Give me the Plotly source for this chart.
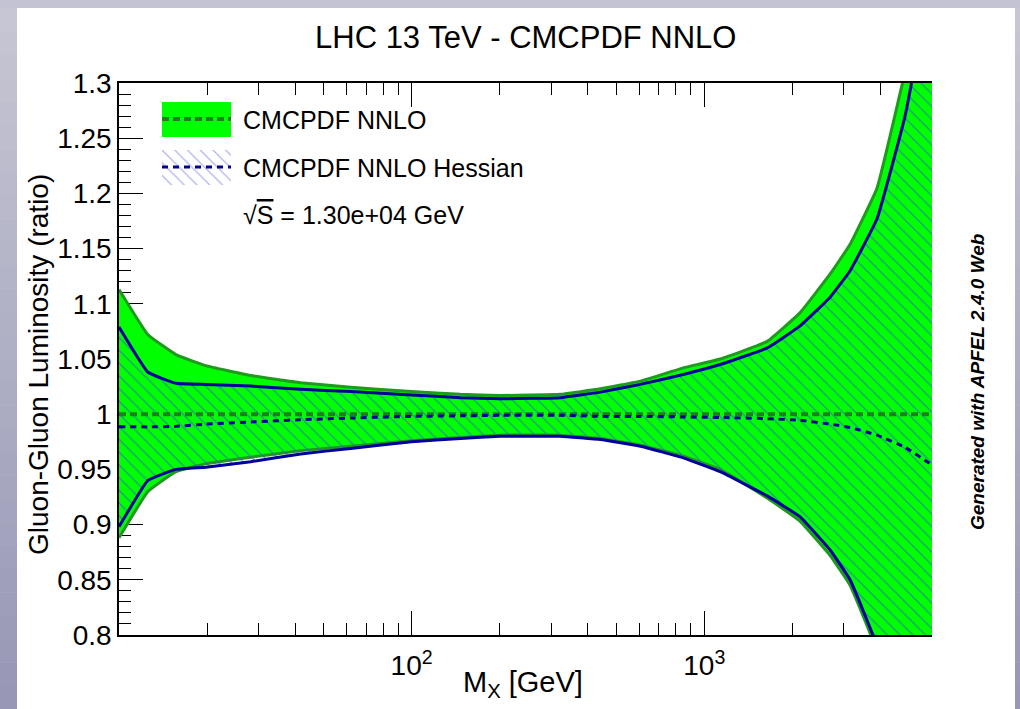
import plotly.graph_objects as go

# Invariant mass grid [GeV]
mass = [10, 12.56, 15.65, 19.8, 28.2, 41.8, 61.9, 100, 147, 201, 322, 442,
        605, 848, 1133, 1641, 2126, 2692, 3150, 3894, 4853, 6000]

# CMCPDF NNLO (Monte Carlo) band, ratio to central value
mc_upper = [1.113, 1.072, 1.054, 1.044, 1.035, 1.0285, 1.0245, 1.0205, 1.018, 1.017, 1.018, 1.023,
            1.030, 1.042, 1.050, 1.066, 1.092, 1.127, 1.154, 1.205, 1.31, 1.42]
mc_lower = [0.888, 0.930, 0.948, 0.955, 0.961, 0.967, 0.971, 0.976, 0.979, 0.981, 0.981, 0.978,
            0.972, 0.962, 0.950, 0.924, 0.903, 0.872, 0.845, 0.785, 0.67, 0.55]
mc_central = [1.0, 1.0, 1.0, 1.0, 1.0, 1.0, 1.0, 1.0, 1.0, 1.0, 1.0, 1.0,
              1.0, 1.0, 1.0, 1.0, 1.0, 1.0, 1.0, 1.0, 1.0, 1.0]

# CMCPDF NNLO Hessian band
hs_upper = [1.079, 1.038, 1.028, 1.027, 1.0255, 1.0225, 1.0205, 1.0175, 1.015, 1.014, 1.015, 1.020,
            1.027, 1.036, 1.045, 1.060, 1.080, 1.106, 1.130, 1.177, 1.27, 1.40]
hs_lower = [0.898, 0.940, 0.950, 0.952, 0.957, 0.964, 0.969, 0.975, 0.978, 0.980, 0.980, 0.977,
            0.971, 0.9605, 0.948, 0.926, 0.907, 0.877, 0.850, 0.790, 0.68, 0.56]
hs_central = [0.9887, 0.9885, 0.989, 0.991, 0.993, 0.995, 0.9965, 0.998, 0.9985, 0.999, 0.999, 0.998,
              0.998, 0.9975, 0.997, 0.996, 0.9945, 0.991, 0.988, 0.981, 0.970, 0.954]

y_ticks = [0.8, 0.85, 0.9, 0.95, 1.0, 1.05, 1.1, 1.15, 1.2, 1.25, 1.3]
y_ticklabels = ["0.8", "0.85", "0.9", "0.95", "1", "1.05", "1.1", "1.15", "1.2", "1.25", "1.3"]
x_ticks = [100, 1000]
x_ticklabels = ["10<sup>2</sup>", "10<sup>3</sup>"]
x_minor = [20, 30, 40, 50, 60, 70, 80, 90, 200, 300, 400, 500, 600, 700, 800, 900,
           2000, 3000, 4000, 5000]
y_minor = [round(0.8 + 0.01 * i, 2) for i in range(51) if i % 5 != 0]

FONT = "Liberation Sans, Arial, Helvetica, sans-serif"
W_FIG, H_FIG = 1020, 709
L, R, T, B = 119, 932, 83, 635
PW, PH = R - L, B - T


def px(x):
    return (x - L) / PW


def py(y):
    return (B - y) / PH


GREEN = "#00ff00"
GREEN_EDGE = "#1f9a1f"
GREEN_DASH = "#1f7f1f"
NAVY = "#00009a"
HATCH = "#3a5ad0"

fig = go.Figure()

# MC band: filled polygon with darker outline
fig.add_trace(go.Scatter(
    x=mass + mass[::-1], y=mc_upper + mc_lower[::-1],
    fill="toself", fillcolor=GREEN, mode="lines",
    line=dict(color=GREEN_EDGE, width=3, shape="spline", smoothing=0.3),
    hoverinfo="skip", showlegend=False))

# Hessian band: hatched fill
fig.add_trace(go.Scatter(
    x=mass + mass[::-1], y=hs_upper + hs_lower[::-1],
    fill="toself", fillcolor="rgba(0,0,0,0)", mode="lines",
    line=dict(width=0, shape="spline", smoothing=0.3),
    fillpattern=dict(shape="\\", fgcolor=HATCH, fgopacity=0.75,
                     bgcolor="rgba(0,0,0,0)", size=9, solidity=0.13),
    hoverinfo="skip", showlegend=False))

fig.add_trace(go.Scatter(x=mass, y=mc_central, mode="lines",
                         line=dict(color=GREEN_DASH, width=4, dash="7px,4px"),
                         showlegend=False))
fig.add_trace(go.Scatter(x=mass, y=hs_upper, mode="lines",
                         line=dict(color=NAVY, width=3, shape="spline", smoothing=0.3),
                         showlegend=False))
fig.add_trace(go.Scatter(x=mass, y=hs_lower, mode="lines",
                         line=dict(color=NAVY, width=3, shape="spline", smoothing=0.3),
                         showlegend=False))
fig.add_trace(go.Scatter(x=mass, y=hs_central, mode="lines",
                         line=dict(color=NAVY, width=3, dash="6px,5px", shape="spline", smoothing=0.3),
                         showlegend=False))

# Hatched legend swatch on its own small overlay axes
fig.add_trace(go.Scatter(
    x=[0, 1, 1, 0, 0], y=[0, 0, 1, 1, 0], xaxis="x2", yaxis="y2",
    fill="toself", fillcolor="rgba(0,0,0,0)", mode="lines", line=dict(width=0),
    fillpattern=dict(shape="\\", fgcolor="#8080e0", fgopacity=0.7,
                     bgcolor="rgba(0,0,0,0)", size=9, solidity=0.13),
    hoverinfo="skip", showlegend=False))

shapes = []
# Page frame: grey border with vertical gradient on the sides
shapes.append(dict(type="rect", xref="paper", yref="paper", x0=px(0), x1=px(W_FIG),
                   y0=py(0), y1=py(8), fillcolor="#c3c3d3", line=dict(width=0), layer="below"))
n_bands = 30
for i in range(n_bands):
    t = i / (n_bands - 1)
    c = (int(198 - 46 * t), int(198 - 46 * t), int(212 - 30 * t))
    y0 = 8 + (H_FIG - 8) * i / n_bands
    y1 = 8 + (H_FIG - 8) * (i + 1) / n_bands
    col = "rgb(%d,%d,%d)" % c
    shapes.append(dict(type="rect", xref="paper", yref="paper", x0=px(0), x1=px(17),
                       y0=py(y0), y1=py(y1 + 0.5), fillcolor=col, line=dict(width=0), layer="below"))
    shapes.append(dict(type="rect", xref="paper", yref="paper", x0=px(1015), x1=px(W_FIG),
                       y0=py(y0), y1=py(y1 + 0.5), fillcolor=col, line=dict(width=0), layer="below"))

# Legend swatches
shapes.append(dict(type="rect", xref="paper", yref="paper", x0=px(162), x1=px(231),
                   y0=py(137), y1=py(102), fillcolor=GREEN, line=dict(width=0)))
shapes.append(dict(type="line", xref="paper", yref="paper", x0=px(162), x1=px(231),
                   y0=py(119), y1=py(119), line=dict(color=GREEN_DASH, width=4, dash="7px,4px")))
shapes.append(dict(type="line", xref="paper", yref="paper", x0=px(162), x1=px(231),
                   y0=py(167), y1=py(167), line=dict(color=NAVY, width=3, dash="6px,5px")))

annotations = [
    dict(text="LHC 13 TeV - CMCPDF NNLO", x=px(525), y=py(38), xref="paper", yref="paper",
         showarrow=False, xanchor="center", yanchor="middle",
         font=dict(family=FONT, size=31, color="black")),
    dict(text="CMCPDF NNLO", x=px(241), y=py(120), xref="paper", yref="paper",
         showarrow=False, xanchor="left", yanchor="middle",
         font=dict(family=FONT, size=25, color="black")),
    dict(text="CMCPDF NNLO Hessian", x=px(241), y=py(168), xref="paper", yref="paper",
         showarrow=False, xanchor="left", yanchor="middle",
         font=dict(family=FONT, size=25, color="black")),
    dict(text="√<span style='text-decoration:overline'>S</span> = 1.30e+04 GeV",
         x=px(241), y=py(215), xref="paper", yref="paper",
         showarrow=False, xanchor="left", yanchor="middle",
         font=dict(family=FONT, size=25, color="black")),
    dict(text="Gluon-Gluon Luminosity (ratio)", x=px(38), y=py(365), xref="paper", yref="paper",
         showarrow=False, xanchor="center", yanchor="middle", textangle=-90,
         font=dict(family=FONT, size=28, color="black")),
    dict(text="M<sub>X</sub> [GeV]", x=px(523), y=py(684), xref="paper", yref="paper",
         showarrow=False, xanchor="center", yanchor="middle",
         font=dict(family=FONT, size=29, color="black")),
    dict(text="<b><i>Generated with APFEL 2.4.0 Web</i></b>", x=px(977), y=py(381),
         xref="paper", yref="paper", showarrow=False, xanchor="center", yanchor="middle",
         textangle=-90, font=dict(family=FONT, size=19, color="black")),
]

fig.update_layout(
    width=W_FIG, height=H_FIG,
    margin=dict(l=L, r=W_FIG - R, t=T, b=H_FIG - B, pad=0),
    paper_bgcolor="white", plot_bgcolor="rgba(0,0,0,0)",
    showlegend=False,
    shapes=shapes, annotations=annotations,
    xaxis=dict(type="log", range=[1, 3.77815], showgrid=False, zeroline=False,
               tickmode="array", tickvals=x_ticks, ticktext=x_ticklabels,
               ticks="inside", ticklen=24, tickwidth=1.3, tickcolor="black",
               showline=True, linecolor="black", linewidth=1.5, mirror="ticks",
               layer="below traces", ticklabelstandoff=5,
               tickfont=dict(family=FONT, size=28, color="black"),
               minor=dict(tickmode="array", tickvals=x_minor, ticks="inside", ticklen=12,
                          tickwidth=1.3, tickcolor="black", showgrid=False)),
    yaxis=dict(range=[0.8, 1.3], showgrid=False, zeroline=False,
               tickmode="array", tickvals=y_ticks, ticktext=y_ticklabels,
               ticks="inside", ticklen=24, tickwidth=1.3, tickcolor="black",
               showline=True, linecolor="black", linewidth=1.5, mirror=False,
               layer="below traces",
               tickfont=dict(family=FONT, size=28, color="black"),
               minor=dict(tickmode="array", tickvals=y_minor, ticks="inside", ticklen=12,
                          tickwidth=1.3, tickcolor="black", showgrid=False)),
    xaxis2=dict(domain=[px(162), px(231)], range=[0, 1], visible=False,
                anchor="y2", fixedrange=True),
    yaxis2=dict(domain=[py(185), py(150)], range=[0, 1], visible=False,
                anchor="x2", fixedrange=True),
)

fig.write_html("out.html")
